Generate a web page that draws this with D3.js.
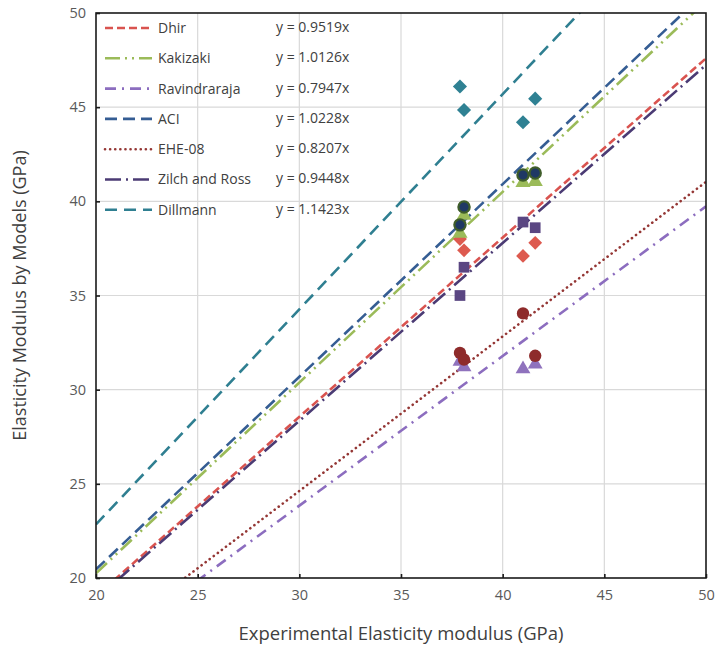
<!DOCTYPE html>
<html>
<head>
<meta charset="utf-8">
<script src="https://cdn.jsdelivr.net/npm/d3@7"></script>
<style>
  html, body { margin: 0; padding: 0; background: #fff; }
  svg { display: block; font-family: "Open Sans", "DejaVu Sans", sans-serif; }
</style>
</head>
<body>
<svg id="chart" width="720" height="650"></svg>
<script>
// ---------- data ----------
const xTicks = [20, 25, 30, 35, 40, 45, 50];
const yTicks = [20, 25, 30, 35, 40, 45, 50];
const experimental = [37.9, 38.1, 41.0, 41.6];

const models = ["Dhir", "Kakizaki", "Ravindraraja", "ACI", "EHE-08", "Zilch and Ross", "Dillmann"];
const slopes = [0.9519, 1.0126, 0.7947, 1.0228, 0.8207, 0.9448, 1.1423];
const equations = ["y = 0.9519x", "y = 1.0126x", "y = 0.7947x", "y = 1.0228x", "y = 0.8207x", "y = 0.9448x", "y = 1.1423x"];

const dhirValues = [38.0, 37.4, 37.1, 37.8];
const kakizakiValues = [38.3, 39.25, 41.0, 41.05];
const ravindrarajaValues = [31.5, 31.2, 31.1, 31.35];
const aciValues = [38.75, 39.7, 41.4, 41.5];
const eheValues = [31.95, 31.6, 34.05, 31.8];
const zilchValues = [35.0, 36.5, 38.9, 38.6];
const dillmannValues = [46.1, 44.85, 44.2, 45.45];

// ---------- styles ----------
const lineColors = ["#d9534f", "#9bbb59", "#8c6dbf", "#355d93", "#943634", "#4b3b74", "#2f7f91"];
const lineDashes = ["8,4", "15,5,2,5,2,5", "11,6,2,6", "12,6", "0.1,5", "16,5,2,5", "12,7"];
const lineCaps = ["butt", "butt", "butt", "butt", "round", "butt", "butt"];

// ---------- layout ----------
const W = 720, H = 650;
const M = { left: 96, right: 14, top: 13, bottom: 72 };
const svg = d3.select("#chart");
const x = d3.scaleLinear().domain([20, 50]).range([M.left, W - M.right]);
const y = d3.scaleLinear().domain([20, 50]).range([H - M.bottom, M.top]);

// gridlines
const g = svg.append("g");
g.selectAll(".vg").data(xTicks.slice(1, -1)).join("line")
  .attr("x1", d => x(d)).attr("x2", d => x(d))
  .attr("y1", y(20)).attr("y2", y(50))
  .attr("stroke", "#d9d9d9").attr("stroke-width", 1.2);
g.selectAll(".hg").data(yTicks.slice(1, -1)).join("line")
  .attr("y1", d => y(d)).attr("y2", d => y(d))
  .attr("x1", x(20)).attr("x2", x(50))
  .attr("stroke", "#d9d9d9").attr("stroke-width", 1.2);

// clip
svg.append("clipPath").attr("id", "clip").append("rect")
  .attr("x", x(20)).attr("y", y(50))
  .attr("width", x(50) - x(20)).attr("height", y(20) - y(50));

// trend lines
const lineGen = d3.line().x(d => x(d[0])).y(d => y(d[1]));
const lines = svg.append("g").attr("clip-path", "url(#clip)");
models.forEach((m, i) => {
  lines.append("path")
    .attr("d", lineGen([[20, 20 * slopes[i]], [50, 50 * slopes[i]]]))
    .attr("fill", "none")
    .attr("stroke", lineColors[i])
    .attr("stroke-width", 2.6)
    .attr("stroke-dasharray", lineDashes[i])
    .attr("stroke-linecap", lineCaps[i]);
});

// markers
const pts = svg.append("g");
function drawSeries(values, type, size, fill, stroke, sw, rotate) {
  const sym = d3.symbol().type(type).size(size);
  pts.selectAll(null).data(values).join("path")
    .attr("d", sym)
    .attr("transform", (d, i) => `translate(${x(experimental[i])},${y(d)})` + (rotate ? " rotate(45)" : ""))
    .attr("fill", fill)
    .attr("stroke", stroke || "none")
    .attr("stroke-width", sw || 0);
}
drawSeries(dhirValues, d3.symbolSquare, 95, "#dd5a4f", null, 0, true);
drawSeries(zilchValues, d3.symbolSquare, 115, "#5a4682");
drawSeries(ravindrarajaValues, d3.symbolTriangle, 95, "#8f72bd");
drawSeries(kakizakiValues, d3.symbolTriangle, 100, "#9bbb59");
drawSeries(eheValues, d3.symbolCircle, 120, "#8e2b2b");
drawSeries(aciValues, d3.symbolCircle, 100, "#1f3864", "#3f5d2a", 2.2);
drawSeries(dillmannValues, d3.symbolSquare, 100, "#2f8193", null, 0, true);

// frame
svg.append("rect")
  .attr("x", x(20)).attr("y", y(50))
  .attr("width", x(50) - x(20)).attr("height", y(20) - y(50))
  .attr("fill", "none").attr("stroke", "#1a1a1a").attr("stroke-width", 1.6);

// axes (ticks inside)
const xAxis = svg.append("g").attr("transform", `translate(0,${y(20)})`)
  .call(d3.axisBottom(x).tickValues(xTicks).tickSize(-4).tickPadding(12));
const yAxis = svg.append("g").attr("transform", `translate(${x(20)},0)`)
  .call(d3.axisLeft(y).tickValues(yTicks).tickSize(-4).tickPadding(10));
[xAxis, yAxis].forEach(a => {
  a.select(".domain").remove();
  a.selectAll(".tick line").attr("stroke", "#1a1a1a").attr("stroke-width", 1.6);
  a.selectAll(".tick text").attr("fill", "#595959").attr("font-size", 14.5)
    .attr("font-family", "'Open Sans', sans-serif");
});
xAxis.selectAll(".tick text").attr("dy", "0.71em");

// axis titles
svg.append("text")
  .attr("x", (x(20) + x(50)) / 2).attr("y", 640)
  .attr("text-anchor", "middle").attr("font-size", 18.5).attr("fill", "#404040")
  .text("Experimental Elasticity modulus (GPa)");
svg.append("text")
  .attr("transform", `translate(26,${(y(20) + y(50)) / 2}) rotate(-90)`)
  .attr("text-anchor", "middle").attr("font-size", 18).attr("fill", "#404040")
  .text("Elasticity Modulus by Models (GPa)");

// legend
const leg = svg.append("g");
const legY0 = 28, legDY = 30.3;
models.forEach((m, i) => {
  const yy = legY0 + i * legDY;
  leg.append("line")
    .attr("x1", 105).attr("x2", 152).attr("y1", yy).attr("y2", yy)
    .attr("stroke", lineColors[i]).attr("stroke-width", 2.6)
    .attr("stroke-dasharray", lineDashes[i]).attr("stroke-linecap", lineCaps[i]);
  leg.append("text")
    .attr("x", 158).attr("y", yy).attr("dy", "0.35em")
    .attr("font-size", 14).attr("fill", "#404040").text(m);
  leg.append("text")
    .attr("x", 276).attr("y", yy - 1).attr("dy", "0.35em")
    .attr("font-size", 14).attr("fill", "#404040").text(equations[i]);
});
</script>
</body>
</html>
